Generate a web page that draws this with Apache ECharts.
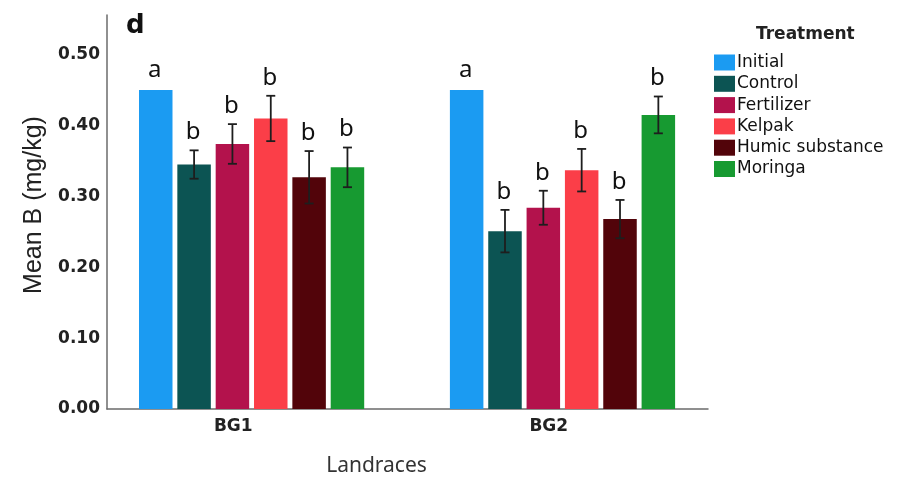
<!DOCTYPE html>
<html>
<head>
<meta charset="utf-8">
<script src="https://cdn.jsdelivr.net/npm/echarts@6/dist/echarts.min.js"></script>
<style>html,body{margin:0;padding:0;background:#fff;}#c{width:899px;height:482px;}</style>
</head>
<body>
<div id="c"></div>
<script>
// ---- data ----
const categories = ['BG1', 'BG2'];
const treatments = ['Initial', 'Control', 'Fertilizer', 'Kelpak', 'Humic substance', 'Moringa'];
const initialMean = [0.450, 0.450];
const controlMean = [0.345, 0.251];
const fertilizerMean = [0.374, 0.284];
const kelpakMean = [0.410, 0.337];
const humicMean = [0.327, 0.268];
const moringaMean = [0.341, 0.415];
const initialErr = [0, 0];
const controlErr = [0.020, 0.030];
const fertilizerErr = [0.028, 0.024];
const kelpakErr = [0.032, 0.030];
const humicErr = [0.037, 0.027];
const moringaErr = [0.028, 0.026];
const initialLetter = ['a', 'a'];
const controlLetter = ['b', 'b'];
const fertilizerLetter = ['b', 'b'];
const kelpakLetter = ['b', 'b'];
const humicLetter = ['b', 'b'];
const moringaLetter = ['b', 'b'];
const yTicks = [0, 0.1, 0.2, 0.3, 0.4, 0.5];

const means = [initialMean, controlMean, fertilizerMean, kelpakMean, humicMean, moringaMean];
const errs = [initialErr, controlErr, fertilizerErr, kelpakErr, humicErr, moringaErr];
const letters = [initialLetter, controlLetter, fertilizerLetter, kelpakLetter, humicLetter, moringaLetter];
const colors = ['#1b9bf2', '#0c5453', '#b3124c', '#fb3e48', '#52040a', '#179a31'];

const BAR_W = 33.5, BAR_GAP = 4.84, PITCH = BAR_W + BAR_GAP;

const chart = echarts.init(document.getElementById('c'));

const barSeries = treatments.map((t, k) => ({
  name: t,
  type: 'bar',
  xAxisIndex: 1,
  barWidth: BAR_W,
  barGap: (BAR_GAP / BAR_W * 100) + '%',
  itemStyle: { color: colors[k] },
  data: categories.map((c, i) => [i + 1, means[k][i]])
}));

const errData = [];
treatments.forEach((t, k) => {
  categories.forEach((c, i) => {
    errData.push([i + 1, means[k][i], means[k][i] - errs[k][i], means[k][i] + errs[k][i], k, letters[k][i]]);
  });
});

const errSeries = {
  type: 'custom',
  xAxisIndex: 1,
  z: 10,
  silent: true,
  data: errData,
  renderItem: function (params, api) {
    const x = api.value(0), lo = api.value(2), hi = api.value(3), k = api.value(4);
    const letter = errData[params.dataIndex][5];
    const off = (k - 2.5) * PITCH;
    const pLo = api.coord([x, lo]);
    const pHi = api.coord([x, hi]);
    const cx = pLo[0] + off;
    const children = [];
    if (hi > lo) {
      const st = { stroke: '#1e1e1e', lineWidth: 1.8 };
      children.push({ type: 'line', shape: { x1: cx, y1: pHi[1], x2: cx, y2: pLo[1] }, style: st });
      children.push({ type: 'line', shape: { x1: cx - 4.5, y1: pHi[1], x2: cx + 4.5, y2: pHi[1] }, style: st });
      children.push({ type: 'line', shape: { x1: cx - 4.5, y1: pLo[1], x2: cx + 4.5, y2: pLo[1] }, style: st });
    }
    children.push({
      type: 'text',
      style: {
        text: letter, x: cx - 1, y: pHi[1] - (hi > lo ? 6 : 8),
        align: 'center', verticalAlign: 'bottom',
        font: '24px "Noto Sans"', fill: '#111'
      }
    });
    return { type: 'group', children: children };
  }
};

const option = {
  backgroundColor: '#fff',
  animation: false,
  title: [
    { text: 'd', left: 121, top: 8, textStyle: { fontFamily: 'DejaVu Sans', fontWeight: 'bold', fontSize: 26, color: '#111' } },
    { text: 'Treatment', left: 751, top: 21, textStyle: { fontFamily: 'DejaVu Sans', fontWeight: 'bold', fontSize: 17, color: '#222' } }
  ],
  legend: {
    data: treatments,
    orient: 'vertical',
    left: 709,
    top: 49,
    itemWidth: 21,
    itemHeight: 16,
    itemGap: 4.3,
    icon: 'rect',
    textStyle: { fontFamily: 'DejaVu Sans', fontSize: 17, color: '#111', padding: [0, 0, 0, -3] }
  },
  grid: { left: 107, right: 191, top: 15, bottom: 70 },
  xAxis: [
    {
      type: 'category',
      data: categories,
      axisLine: { lineStyle: { color: '#6b6b6b', width: 1.5 } },
      axisTick: { show: false },
      axisLabel: {
        margin: 9,
        formatter: (v, i) => '{c' + i + '|' + v + '}',
        rich: {
          c0: { fontFamily: 'DejaVu Sans', fontWeight: 'bold', fontSize: 17, color: '#222', padding: [0, 48, 0, 0] },
          c1: { fontFamily: 'DejaVu Sans', fontWeight: 'bold', fontSize: 17, color: '#222', padding: [0, 18, 0, 0] }
        }
      },
      name: 'Landraces',
      nameLocation: 'middle',
      nameGap: 47,
      nameTextStyle: { fontFamily: 'Noto Sans', fontSize: 21, color: '#333', padding: [0, 62, 0, 0] }
    },
    {
      type: 'value',
      min: 0.5349,
      max: 2.468,
      show: false
    }
  ],
  yAxis: {
    type: 'value',
    min: 0,
    max: 0.556,
    interval: 0.1,
    axisLine: { show: true, lineStyle: { color: '#6b6b6b', width: 1.5 } },
    axisTick: { show: false },
    splitLine: { show: false },
    axisLabel: {
      margin: 7,
      padding: [4, 0, 0, 0],
      fontFamily: 'DejaVu Sans', fontWeight: 'bold', fontSize: 17, color: '#222',
      formatter: function (v) {
        const hit = yTicks.find(t => Math.abs(t - v) < 1e-6);
        return hit === undefined ? '' : hit.toFixed(2);
      }
    },
    name: 'Mean B (mg/kg)',
    nameLocation: 'middle',
    nameGap: 60,
    nameTextStyle: { fontFamily: 'Liberation Sans', fontSize: 25, color: '#222', padding: [0, 0, 0, 14] }
  },
  series: barSeries.concat([errSeries])
};

chart.setOption(option);
</script>
</body>
</html>
